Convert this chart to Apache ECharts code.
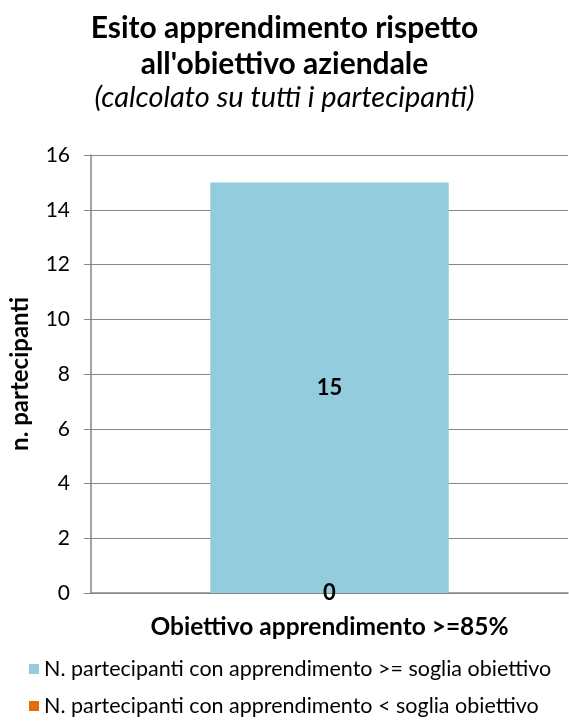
<!DOCTYPE html>
<html><head><meta charset="utf-8">
<script src="https://cdn.jsdelivr.net/npm/echarts@6/dist/echarts.min.js"></script>
<style>html,body{margin:0;padding:0;background:#fff}#c{width:569px;height:726px}</style>
</head><body><div id="c"></div>
<script>
var categories = ['Obiettivo apprendimento >=85%'];
var seriesNames = ['N. partecipanti con apprendimento >= soglia obiettivo', 'N. partecipanti con apprendimento < soglia obiettivo'];
var aboveValues = [15];
var belowValues = [0];
var yTicks = {min: 0, max: 16, interval: 2};

var FONT = 'Lato';
var chart = echarts.init(document.getElementById('c'));
chart.setOption({
  animation: false,
  textStyle: {fontFamily: FONT},
  title: [
    {text: 'Esito apprendimento rispetto\nall\'obiettivo aziendale', left: 'center', top: 5,
     textStyle: {fontFamily: FONT, fontSize: 30, fontWeight: 'bold', color: '#000', lineHeight: 36}},
    {text: '(calcolato su tutti i partecipanti)', left: 'center', top: 78,
     textStyle: {fontFamily: FONT, fontSize: 29, fontWeight: 'normal', fontStyle: 'italic', color: '#000'}}
  ],
  legend: {
    orient: 'vertical', left: 24, top: 653, itemGap: 15, itemWidth: 10, itemHeight: 10,
    icon: 'rect', data: [seriesNames[0], seriesNames[1]],
    textStyle: {fontFamily: FONT, fontSize: 21.5, color: '#000'}
  },
  grid: {left: 89, right: 1, top: 155, bottom: 133, containLabel: false},
  xAxis: {
    type: 'category', data: categories,
    axisLine: {lineStyle: {color: '#868686', width: 1.5}},
    axisTick: {show: false},
    axisLabel: {fontFamily: FONT, fontSize: 24.5, fontWeight: 'bold', color: '#000', margin: 22}
  },
  yAxis: {
    type: 'value', min: yTicks.min, max: yTicks.max, interval: yTicks.interval,
    name: 'n. partecipanti', nameLocation: 'middle', nameGap: 59, nameRotate: 90,
    nameTextStyle: {fontFamily: FONT, fontSize: 24, fontWeight: 'bold', color: '#000'},
    axisLine: {show: true, lineStyle: {color: '#868686', width: 1.5}},
    axisTick: {show: true, length: 7, lineStyle: {color: '#868686'}},
    axisLabel: {fontFamily: FONT, fontSize: 21, color: '#000', margin: 21},
    splitLine: {lineStyle: {color: '#868686', width: 1}}
  },
  series: [
    {name: seriesNames[1], type: 'bar', stack: 's', data: belowValues, barWidth: '50%',
     itemStyle: {color: '#E46C0A'}, z: 3,
     label: {show: true, position: 'inside', fontFamily: FONT, fontSize: 22, fontWeight: 'bold', color: '#000'}},
    {name: seriesNames[0], type: 'bar', stack: 's', data: aboveValues, barWidth: '50%',
     itemStyle: {color: '#93CDDD'}, z: 2,
     label: {show: true, position: 'inside', fontFamily: FONT, fontSize: 22, fontWeight: 'bold', color: '#000'}}
  ]
});
</script></body></html>
